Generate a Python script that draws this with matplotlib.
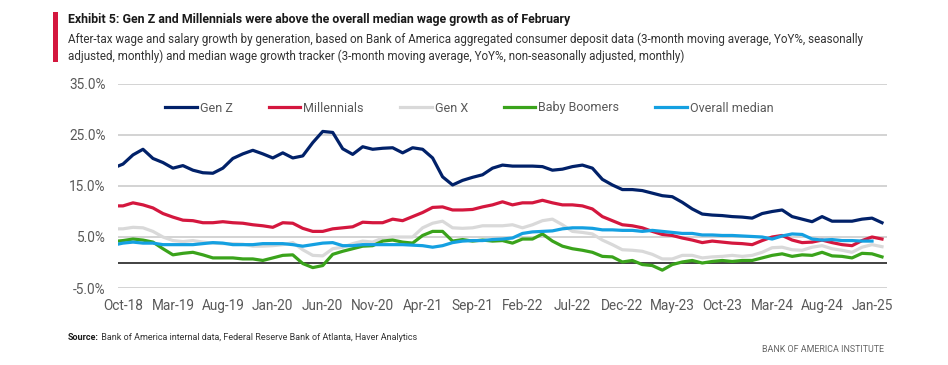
import matplotlib
matplotlib.use("Agg")
import matplotlib.pyplot as plt
from matplotlib.patches import Rectangle

plt.rcParams['font.family'] = ['Roboto', 'DejaVu Sans']

# Monthly data, Sep-18 .. Feb-25 (Sep-18 only partly visible at the left edge)
start_year, start_month = 2018, 9
n = 78
month_names = ['Jan', 'Feb', 'Mar', 'Apr', 'May', 'Jun', 'Jul', 'Aug', 'Sep', 'Oct', 'Nov', 'Dec']
months = []
for k in range(n):
    m = (start_month - 1 + k) % 12
    y = start_year + (start_month - 1 + k) // 12
    months.append(f"{month_names[m]}-{str(y)[2:]}")

gen_z = [18.5, 19.3, 21.1, 22.2, 20.4, 19.6, 18.5, 19.0, 18.1, 17.6, 17.5, 18.5, 20.4, 21.3,
         22.0, 21.3, 20.5, 21.5, 20.5, 20.9, 23.5, 25.7, 25.5, 22.3, 21.2, 22.7, 22.2,
         22.4, 22.5, 21.5, 22.5, 22.2, 20.5, 16.8, 15.2, 16.1, 16.7, 17.2, 18.5, 19.1,
         18.9, 18.9, 18.9, 18.8, 18.1, 18.3, 18.8, 19.1, 18.5, 16.3, 15.2, 14.3, 14.3,
         14.1, 13.6, 13.1, 12.9, 11.8, 10.5, 9.5, 9.3, 9.2, 9.0, 8.9, 8.7, 9.6,
         10.0, 10.3, 9.0, 8.5, 8.0, 9.0, 8.1, 8.1, 8.1, 8.5, 8.7, 7.8]

millennials = [11.1, 11.1, 11.7, 11.3, 10.7, 9.6, 8.9, 8.3, 8.2, 7.8, 7.8, 8.0, 7.8, 7.7,
               7.4, 7.2, 6.9, 7.8, 7.7, 6.7, 6.1, 6.1, 6.6, 6.8, 7.0, 7.9, 7.8,
               7.8, 8.5, 8.2, 9.0, 9.8, 10.8, 10.9, 10.3, 10.3, 10.4, 10.9, 11.3, 11.9,
               11.3, 11.7, 11.7, 12.2, 11.7, 11.3, 11.3, 11.1, 10.5, 9.0, 8.2, 7.4, 7.2,
               6.8, 6.1, 5.5, 5.3, 4.8, 4.4, 3.9, 4.2, 4.0, 3.8, 3.7, 3.5, 4.3,
               5.0, 5.3, 4.4, 3.9, 4.0, 4.4, 3.9, 3.5, 3.3, 4.3, 5.0, 4.6]

gen_x = [6.6, 6.6, 6.9, 6.8, 6.1, 5.0, 4.3, 4.1, 4.3, 4.0, 3.8, 3.7, 3.7, 3.6,
         3.2, 3.2, 3.3, 3.5, 3.9, 2.5, 1.4, 1.3, 2.7, 3.0, 3.7, 4.2, 4.0,
         4.8, 5.0, 5.0, 5.0, 6.8, 7.7, 8.1, 6.8, 6.7, 6.8, 7.2, 7.2, 7.2,
         7.4, 6.8, 7.4, 8.2, 8.5, 7.4, 6.1, 5.9, 5.6, 4.4, 3.5, 2.5, 2.4,
         2.2, 1.6, 0.7, 0.7, 1.4, 1.4, 0.9, 1.1, 1.2, 1.4, 1.2, 1.4, 2.0,
         2.9, 3.0, 2.5, 2.4, 3.0, 3.3, 2.7, 2.4, 2.0, 3.0, 3.5, 3.1]

baby_boomers = [4.1, 4.3, 4.6, 4.4, 4.0, 2.7, 1.5, 1.8, 2.0, 1.5, 0.9, 0.9, 0.9, 0.7,
                0.7, 0.4, 0.9, 1.4, 1.5, -0.2, -1.0, -0.6, 1.6, 2.2, 2.7, 3.2, 3.3,
                4.2, 4.4, 4.0, 3.8, 5.3, 6.1, 6.1, 4.2, 4.5, 4.2, 4.4, 4.2, 4.3,
                3.8, 4.6, 4.6, 5.6, 4.2, 3.2, 2.7, 2.4, 2.0, 1.2, 1.1, 0.1, 0.4,
                -0.4, -0.6, -1.5, -0.4, 0.1, 0.4, -0.1, 0.2, 0.4, 0.2, 0.4, 0.4, 0.9,
                1.4, 1.7, 1.2, 1.5, 1.4, 2.0, 1.3, 1.2, 0.9, 1.8, 1.7, 1.1]

overall_median = [3.4, 3.8, 4.0, 3.8, 3.8, 3.5, 3.5, 3.5, 3.5, 3.7, 3.9, 3.8, 3.5, 3.5,
                  3.5, 3.7, 3.7, 3.7, 3.5, 3.2, 3.5, 3.8, 3.9, 3.3, 3.3, 3.5, 3.5,
                  3.5, 3.5, 3.5, 3.4, 3.3, 3.0, 3.3, 3.9, 4.2, 4.3, 4.3, 4.5, 4.6,
                  4.8, 5.7, 6.0, 6.1, 6.2, 6.6, 6.8, 6.8, 6.7, 6.4, 6.4, 6.3, 6.3,
                  6.1, 6.3, 6.1, 5.9, 5.7, 5.7, 5.4, 5.4, 5.3, 5.3, 5.2, 5.1, 5.0,
                  4.6, 5.2, 5.6, 5.5, 4.6, 4.4, 4.5, 4.3, 4.3, 4.2, 4.2]

series_names = ['Gen Z', 'Millennials', 'Gen X', 'Baby Boomers', 'Overall median']
series_values = [gen_z, millennials, gen_x, baby_boomers, overall_median]
series_colors = ['#012169', '#D4173E', '#D9D9D9', '#3AA31B', '#14A0E1']

y_ticks = [-5, 5, 15, 25, 35]
x_tick_labels = ['Oct-18', 'Mar-19', 'Aug-19', 'Jan-20', 'Jun-20', 'Nov-20', 'Apr-21', 'Sep-21',
                 'Feb-22', 'Jul-22', 'Dec-22', 'May-23', 'Oct-23', 'Mar-24', 'Aug-24', 'Jan-25']

W, H = 948, 365
fig = plt.figure(figsize=(W / 100, H / 100), dpi=100)
ax = fig.add_axes([118 / W, 1 - 288 / H, (887 - 118) / W, (288 - 84) / H])

# x positions: index 0 = Oct-18
xpos = list(range(-1, n - 1))
for name, vals, col in zip(series_names, series_values, series_colors):
    ax.plot(xpos[:len(vals)], vals, color=col, lw=2.3, label=name, solid_joinstyle='round')

ax.set_xlim(-0.5, 76.5)
ax.set_ylim(-5, 35)
ax.set_yticks(y_ticks)
ax.set_yticklabels([f"{v:.1f}%" for v in y_ticks])
tick_idx = [months.index(lbl) - 1 for lbl in x_tick_labels]
ax.set_xticks(tick_idx)
ax.set_xticklabels(x_tick_labels)
ax.grid(axis='y', color='#D0D0D0', lw=1.3)
ax.set_axisbelow(True)
ax.axhline(0, color='#333333', lw=1.3, zorder=1.5)
for s in ax.spines.values():
    s.set_visible(False)
ax.tick_params(axis='both', length=0, labelsize=9.8, labelcolor='#595959')
ax.tick_params(axis='x', pad=8)
ax.tick_params(axis='y', pad=9)

leg = ax.legend(loc='center left', bbox_to_anchor=((165 - 118) / 769, 1 - (108 - 84) / 204),
                ncol=5, frameon=False, fontsize=9.0, handlelength=2.55, handletextpad=0.25,
                columnspacing=2.85, borderpad=0, borderaxespad=0)
for t in leg.get_texts():
    t.set_color('#595959')

renderer = fig.canvas.get_renderer()


def fit(txt, target_px):
    w = txt.get_window_extent(renderer).width
    txt.set_fontsize(txt.get_fontsize() * target_px / w)


# header
fig.add_artist(Rectangle((53 / W, 1 - 62 / H), 5 / W, 50 / H, transform=fig.transFigure,
                         color='#D4173E', lw=0))
t1 = fig.text(68 / W, 1 - 20 / H, 'Exhibit 5: Gen Z and Millennials were above the overall median wage growth as of February',
              fontsize=10, fontweight='bold', color='#1a1a1a', va='center', ha='left')
fit(t1, 508)
t2 = fig.text(68 / W, 1 - 39 / H, 'After-tax wage and salary growth by generation, based on Bank of America aggregated consumer deposit data (3-month moving average, YoY%, seasonally',
              fontsize=10, color='#333333', va='center', ha='left')
fit(t2, 798)
fig.text(68 / W, 1 - 56 / H, 'adjusted, monthly) and median wage growth tracker (3-month moving average, YoY%, non-seasonally adjusted, monthly)',
         fontsize=t2.get_fontsize(), color='#333333', va='center', ha='left')

# footer
src_size = 7.5
src = fig.text(68 / W, 1 - 337 / H, 'Source:', fontsize=src_size, fontweight='bold',
               color='#1a1a1a', va='center', ha='left')
src_rest = fig.text(0, 1 - 337 / H,
                    ' Bank of America internal data, Federal Reserve Bank of Atlanta, Haver Analytics',
                    fontsize=src_size, color='#333333', va='center', ha='left')
total = src.get_window_extent(renderer).width + src_rest.get_window_extent(renderer).width
scale = 349 / total
src.set_fontsize(src_size * scale)
src_rest.set_fontsize(src_size * scale)
bb = src.get_window_extent(renderer)
src_rest.set_x(bb.x1 / W)

t5 = fig.text(884 / W, 1 - 350 / H, 'BANK OF AMERICA INSTITUTE', fontsize=7.5, color='#666666',
              va='center', ha='right')
fit(t5, 121)

fig.savefig('out.png', dpi=100)
